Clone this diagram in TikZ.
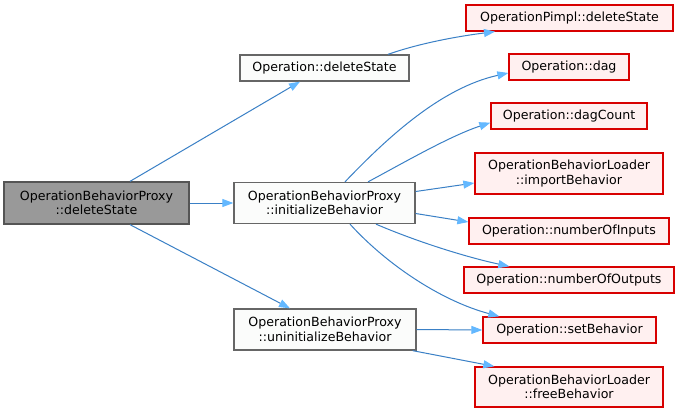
\documentclass[tikz,border=0pt]{standalone}
\usepackage{fontspec}
\setmainfont{DejaVu Sans}
\usetikzlibrary{arrows.meta,calc}
\definecolor{edgeline}{HTML}{3A80C6}
\definecolor{edgetip}{HTML}{63B8FF}
\definecolor{rootfill}{HTML}{999999}
\definecolor{rootdraw}{HTML}{555555}
\definecolor{plainfill}{HTML}{FBFCFB}
\definecolor{plaindraw}{HTML}{666666}
\definecolor{redfill}{HTML}{FFF0F0}
\definecolor{reddraw}{HTML}{D80000}
\tikzset{
  box/.style={rectangle, inner sep=0pt, align=center, line width=1.3pt,
    font=\fontsize{12.6}{14.5}\selectfont, text=black},
  rootbox/.style={box, fill=rootfill, draw=rootdraw},
  plainbox/.style={box, fill=plainfill, draw=plaindraw},
  redbox/.style={box, fill=redfill, draw=reddraw},
  edge/.style={draw=edgeline, line width=1pt,
    -{Triangle[length=11pt,width=8pt,fill=edgetip,color=edgetip]}},
}
\begin{document}
\begin{tikzpicture}[x=1pt,y=-1pt]
\useasboundingbox (0,0) rectangle (680,413);
\fill[white] (0,0) rectangle (680,413);

\node[rootbox, minimum width=185pt, minimum height=42pt] (root) at (96.5,203) {OperationBehaviorProxy\\::deleteState};
\node[plainbox, minimum width=169pt, minimum height=26pt] (dels) at (324.5,68) {Operation::deleteState};
\node[plainbox, minimum width=181pt, minimum height=41pt] (init) at (324.5,203) {OperationBehaviorProxy\\::initializeBehavior};
\node[plainbox, minimum width=182pt, minimum height=41pt] (uninit) at (325,329.5) {OperationBehaviorProxy\\::uninitializeBehavior};

\node[redbox, minimum width=207pt, minimum height=26pt] (pimpl) at (569.5,18) {OperationPimpl::deleteState};
\node[redbox, minimum width=120pt, minimum height=26pt] (dag) at (569,67) {Operation::dag};
\node[redbox, minimum width=156pt, minimum height=26pt] (dagc) at (569,116) {Operation::dagCount};
\node[redbox, minimum width=188pt, minimum height=41pt] (imp) at (569,173.5) {OperationBehaviorLoader\\::importBehavior};
\node[redbox, minimum width=200pt, minimum height=26pt] (ninp) at (569,231) {Operation::numberOfInputs};
\node[redbox, minimum width=210pt, minimum height=26pt] (nout) at (569,280) {Operation::numberOfOutputs};
\node[redbox, minimum width=173pt, minimum height=26pt] (setb) at (569.5,330) {Operation::setBehavior};
\node[redbox, minimum width=188pt, minimum height=40pt] (free) at (569,387) {OperationBehaviorLoader\\::freeBehavior};

% edges
\draw[edge] ($(root.north)+(33.5,0)$) -- ($(dels.south)+(-24.5,0)$);
\draw[edge] (root.east) -- (init.west);
\draw[edge] ($(root.south)+(33.5,0)$) -- ($(uninit.north)+(-35,0)$);

\draw[edge] ($(dels.north)+(63.5,0)$) .. controls (420,43) and (460,36) .. ($(pimpl.south)+(-74.5,0)$);

\draw[edge] ($(init.north)+(20.5,0)$) .. controls (385,140) and (440,88) .. ($(dag.west)+(0,6)$);
\draw[edge] ($(init.north)+(43.5,0)$) .. controls (405,162) and (450,136) .. ($(dagc.south west)+(0,-7)$);
\draw[edge] ($(init.east)+(0,-11.5)$) -- ($(imp.west)+(0,9.5)$);
\draw[edge] ($(init.east)+(0,10.5)$) -- ($(ninp.west)+(0,-9)$);
\draw[edge] ($(init.south)+(51.5,0)$) .. controls (420,243) and (470,258) .. ($(nout.north west)+(46,0)$);
\draw[edge] ($(init.south)+(25.5,0)$) .. controls (390,268) and (445,302) .. ($(setb.north west)+(17,0)$);

\draw[edge] (uninit.east) -- (setb.west);
\draw[edge] ($(uninit.south east)+(-4,0)$) -- ($(free.north west)+(20,0)$);
\end{tikzpicture}
\end{document}
